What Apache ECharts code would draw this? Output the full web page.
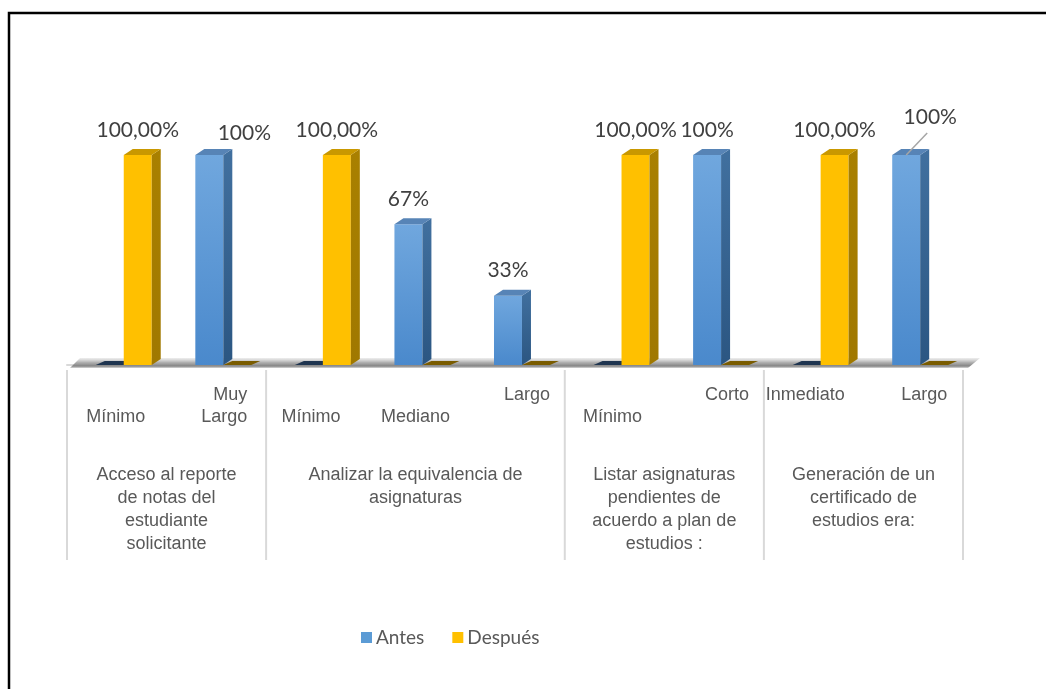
<!DOCTYPE html>
<html>
<head>
<meta charset="utf-8">
<script src="https://cdn.jsdelivr.net/npm/echarts@6/dist/echarts.min.js"></script>
<style>
  html, body { margin: 0; padding: 0; background: #ffffff; }
  #chart { width: 1046px; height: 689px; }
</style>
</head>
<body>
<div id="chart"></div>
<script>
// Leaf categories (first axis level) and their parent groups (second level)
const leafNames = ['Mínimo', 'Muy\nLargo', 'Mínimo', 'Mediano', 'Largo', 'Mínimo', 'Corto', 'Inmediato', 'Largo'];
const groupNames = [
  'Acceso al reporte\nde notas del\nestudiante\nsolicitante',
  'Analizar la equivalencia de\nasignaturas',
  'Listar asignaturas\npendientes de\nacuerdo a plan de\nestudios :',
  'Generación de un\ncertificado de\nestudios era:'
];
const groupSizes = [2, 3, 2, 2];

// Series values (percent)
const antes   = [0, 100, 0, 67, 33, 0, 100, 0, 100];
const despues = [100, 0, 100, 0, 0, 100, 0, 100, 0];
const seriesNames = ['Antes', 'Después'];

// Where each leaf label sits under its category (alignment, horizontal nudge, text row)
const leafLabelLayout = [
  { align: 'center', dx: -1, row: 2 },
  { align: 'right',  dx: 31, row: 1 },
  { align: 'center', dx: -5, row: 2 },
  { align: 'center', dx: 0,  row: 2 },
  { align: 'right',  dx: 35, row: 1 },
  { align: 'center', dx: -2, row: 2 },
  { align: 'right',  dx: 35, row: 1 },
  { align: 'left',   dx: -48, row: 1 },
  { align: 'right',  dx: 34, row: 1 }
];
// Hand-placed value labels (others sit centred above their bar)
const antesLabelNudge = { 1: { dx: 35, dy: 3 }, 8: { dx: 24, dy: -13, leader: true } };

const chart = echarts.init(document.getElementById('chart'), null, { renderer: 'canvas' });

const DEPTH_X = 9, DEPTH_Y = 6;

const palettes = [
  { front: ['#70a7de', '#4a89cc'], side: ['#41709f', '#2b5682'], top: '#5784b6', plate: '#1f3550' },
  { front: ['#ffc000', '#ffc000'], side: ['#a98000', '#a07800'], top: '#c99800', plate: '#7a5c00' }
];

function vGrad(c0, c1) {
  return { type: 'linear', x: 0, y: 0, x2: 0, y2: 1,
           colorStops: [{ offset: 0, color: c0 }, { offset: 1, color: c1 }] };
}

function fmtAntes(v) { return Math.round(v) + '%'; }
function fmtDespues(v) { return v.toFixed(2).replace('.', ',') + '%'; }

function barRenderer(which) {
  const pal = palettes[which];
  return function (params, api) {
    const i = api.value(0), v = api.value(1);
    const base = api.coord([i, 0]);
    const top = api.coord([i, v]);
    const band = api.size([1, 0])[0];
    const w = band * 0.281, shift = band * 0.07;
    const x0 = which === 0 ? base[0] + shift - w : base[0] + shift;
    const x1 = x0 + w;
    const y0 = base[1], y1 = top[1];
    const children = [];
    if (v > 0) {
      children.push({ type: 'rect', shape: { x: x0, y: y1, width: w, height: y0 - y1 },
                      style: { fill: vGrad(pal.front[0], pal.front[1]) } });
      children.push({ type: 'polygon',
                      shape: { points: [[x1, y0], [x1 + DEPTH_X, y0 - DEPTH_Y], [x1 + DEPTH_X, y1 - DEPTH_Y], [x1, y1]] },
                      style: { fill: vGrad(pal.side[0], pal.side[1]) } });
      children.push({ type: 'polygon',
                      shape: { points: [[x0, y1], [x1, y1], [x1 + DEPTH_X, y1 - DEPTH_Y], [x0 + DEPTH_X, y1 - DEPTH_Y]] },
                      style: { fill: pal.top } });
      const cx = (x0 + x1) / 2;
      let lx = cx, ly = y1 - 25;
      const nudge = which === 0 ? antesLabelNudge[params.dataIndex] : null;
      if (nudge) {
        lx = cx + nudge.dx; ly = y1 - 25 + nudge.dy;
        if (nudge.leader) {
          children.push({ type: 'line', shape: { x1: cx, y1: y1, x2: cx + 21, y2: y1 - 22 },
                          style: { stroke: '#a6a6a6', lineWidth: 1.5 } });
        }
      }
      children.push({ type: 'text', x: lx, y: ly,
                      style: { text: which === 0 ? fmtAntes(v) : fmtDespues(v),
                               align: 'center', verticalAlign: 'middle',
                               font: '21px Lato', fill: '#404040' } });
    } else {
      children.push({ type: 'polygon',
                      shape: { points: [[x0, y0], [x1, y0], [x1 + DEPTH_X, y0 - DEPTH_Y + 2], [x0 + DEPTH_X, y0 - DEPTH_Y + 2]] },
                      style: { fill: pal.plate } });
    }
    return { type: 'group', children: children };
  };
}

// Floor under the bars
function floorRenderer(params, api) {
  const band = api.size([1, 0])[0];
  const left = api.coord([0, 0])[0] - band / 2;
  const right = api.coord([leafNames.length - 1, 0])[0] + band / 2;
  const y = api.coord([0, 0])[1];
  return {
    type: 'polygon',
    shape: { points: [[left + 3, y + 3], [right + 5, y + 3], [right + 17, y - 7], [left + 13, y - 7]] },
    style: {
      fill: { type: 'linear', x: 0, y: 0, x2: 0, y2: 1, colorStops: [
        { offset: 0, color: 'rgba(225,225,225,0.6)' },
        { offset: 0.45, color: '#b0b0b0' },
        { offset: 0.8, color: '#858585' },
        { offset: 1, color: '#d8d8d8' } ] }
    }
  };
}

// Group dividers and group titles
const groupStarts = groupSizes.reduce((acc, n, k) => { acc.push(k === 0 ? 0 : acc[k - 1] + groupSizes[k - 1]); return acc; }, []);
function groupRenderer(params, api) {
  const k = params.dataIndex;
  const start = groupStarts[k], size = groupSizes[k];
  const band = api.size([1, 0])[0];
  const left = api.coord([start, 0])[0] - band / 2;
  const right = left + band * size;
  const y = api.coord([start, 0])[1];
  const children = [
    { type: 'line', shape: { x1: left, y1: y + 5, x2: left, y2: y + 195 },
      style: { stroke: '#d9d9d9', lineWidth: 2 } },
    { type: 'text', x: (left + right) / 2, y: y + 99,
      style: { text: groupNames[k], align: 'center', verticalAlign: 'top', lineHeight: 23,
               font: '18px "Liberation Sans"', fill: '#595959' } }
  ];
  if (k === groupSizes.length - 1) {
    children.push({ type: 'line', shape: { x1: right, y1: y + 5, x2: right, y2: y + 195 },
                    style: { stroke: '#d9d9d9', lineWidth: 2 } });
  }
  return { type: 'group', children: children };
}

// Leaf category labels
function leafRenderer(params, api) {
  const i = params.dataIndex;
  const lay = leafLabelLayout[i];
  const p = api.coord([i, 0]);
  return {
    type: 'text', x: p[0] + lay.dx, y: p[1] + 19 + (lay.row - 1) * 22,
    style: { text: leafNames[i], align: lay.align, verticalAlign: 'top', lineHeight: 22,
             font: '18px "Liberation Sans"', fill: '#595959' }
  };
}

const idx = leafNames.map((_, i) => i);

chart.setOption({
  animation: false,
  backgroundColor: '#ffffff',
  grid: { left: 67, right: 83, top: 155, bottom: 324, containLabel: false },
  xAxis: {
    type: 'category', data: leafNames, offset: 5,
    axisLine: { show: true, lineStyle: { color: '#d9d9d9', width: 2 } },
    axisTick: { show: false }, axisLabel: { show: false }, splitLine: { show: false }
  },
  yAxis: { type: 'value', min: 0, max: 100, show: false, splitLine: { show: false } },
  legend: {
    data: seriesNames, left: 356, top: 623, icon: 'rect', itemWidth: 11, itemHeight: 11,
    itemGap: 28, textStyle: { fontFamily: 'Lato', fontSize: 19, color: '#595959', padding: [0, 0, 0, -1] }
  },
  graphic: [{
    type: 'polyline', shape: { points: [[9, 689], [9, 13], [1046, 13]] },
    style: { stroke: '#000000', lineWidth: 2.5, fill: null }, z: 100
  }],
  series: [
    { type: 'custom', name: 'floor', renderItem: floorRenderer, data: [[0, 0]], clip: false, silent: true, z: 1 },
    { type: 'custom', name: 'groups', renderItem: groupRenderer, data: groupSizes.map((n, k) => [groupStarts[k], 0]), clip: false, silent: true, z: 1 },
    { type: 'custom', name: 'leaves', renderItem: leafRenderer, data: idx.map(i => [i, 0]), clip: false, silent: true, z: 1 },
    { type: 'custom', name: seriesNames[0], renderItem: barRenderer(0), data: antes.map((v, i) => [i, v]),
      clip: false, itemStyle: { color: '#5b9bd5' }, z: 2 },
    { type: 'custom', name: seriesNames[1], renderItem: barRenderer(1), data: despues.map((v, i) => [i, v]),
      clip: false, itemStyle: { color: '#ffc000' }, z: 3 }
  ]
});
</script>
</body>
</html>
